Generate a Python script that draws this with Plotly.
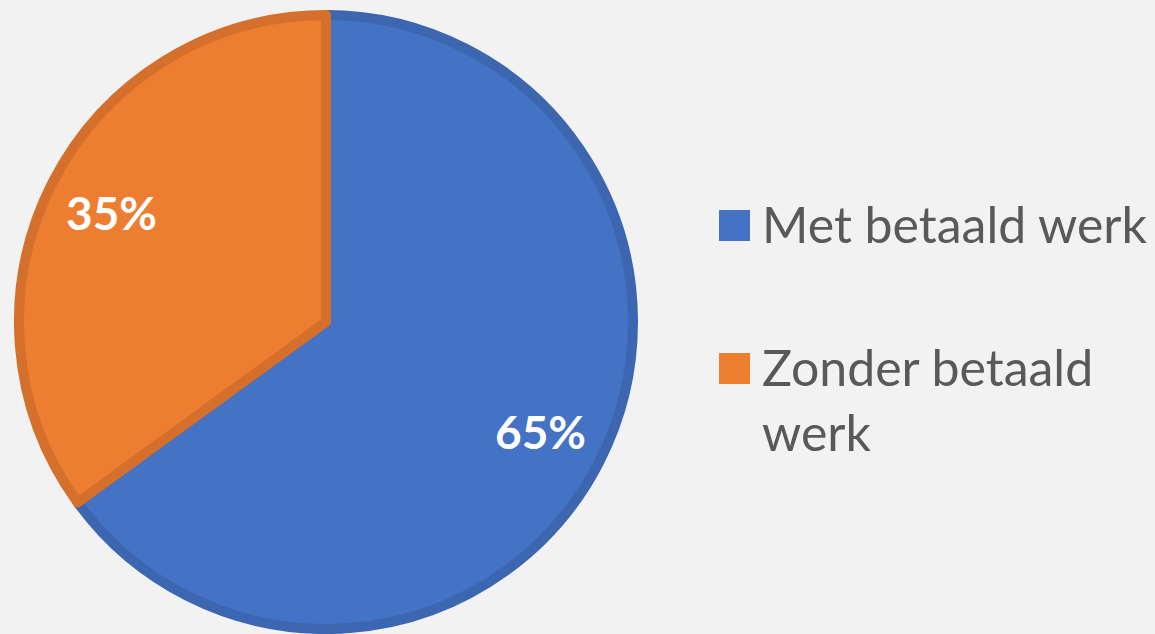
import math
import plotly.graph_objects as go

labels = ["Met betaald werk", "Zonder betaald werk"]
legend_text = ["Met betaald werk", "Zonder betaald<br>werk"]
values = [65, 35]
fill_colors = ["#4472C4", "#ED7D31"]
border_colors = ["#3D66B0", "#D4702C"]

W, H = 1155, 634
cx, cy, R = 326, 322, 312  # pixel layout of the pie (outer edge incl. border)
lw = 10
r = R - lw / 2
label_frac = 0.77

fig = go.Figure(go.Pie(
    labels=labels,
    values=values,
    sort=False,
    direction="clockwise",
    rotation=0,
    marker=dict(colors=fill_colors, line=dict(color=border_colors, width=lw)),
    textinfo="none",
    showlegend=False,
    hoverinfo="label+percent",
    domain=dict(x=[(cx - r) / W, (cx + r) / W], y=[(H - cy - r) / H, (H - cy + r) / H]),
))

# percentage labels at slice mid-angles (computed from the data)
total = sum(values)
cum = 0
for v in values:
    mid = (cum + v / 2) / total * 2 * math.pi  # clockwise from 12 o'clock
    cum += v
    px = cx + label_frac * R * math.sin(mid)
    py = cy - label_frac * R * math.cos(mid)
    fig.add_annotation(xref="paper", yref="paper", x=px / W, y=(H - py) / H,
                       xanchor="center", yanchor="middle", showarrow=False,
                       text=f"{round(v / total * 100)}%",
                       font=dict(family="Lato", size=46, color="white", weight="bold"))

# legend drawn as annotations
legend_x = 719
legend_rows = [225, 368]
for ty, text, col in zip(legend_rows, legend_text, fill_colors):
    fig.add_shape(type="rect", xref="paper", yref="paper",
                  x0=legend_x / W, x1=(legend_x + 31) / W,
                  y0=(H - ty - 16) / H, y1=(H - ty + 15) / H,
                  fillcolor=col, line=dict(width=0))
    fig.add_annotation(xref="paper", yref="paper", x=(legend_x + 41) / W, y=(H - ty + 33) / H,
                       xanchor="left", yanchor="top", align="left", showarrow=False,
                       text=text, font=dict(family="Lato", size=50, color="#595959"))

fig.update_layout(
    width=W, height=H,
    margin=dict(l=0, r=0, t=0, b=0),
    paper_bgcolor="#F2F2F2",
    plot_bgcolor="#F2F2F2",
)

fig.write_html("out.html", config={"displayModeBar": False},
               post_script="document.body.style.margin='0';document.body.style.background='#F2F2F2';")
